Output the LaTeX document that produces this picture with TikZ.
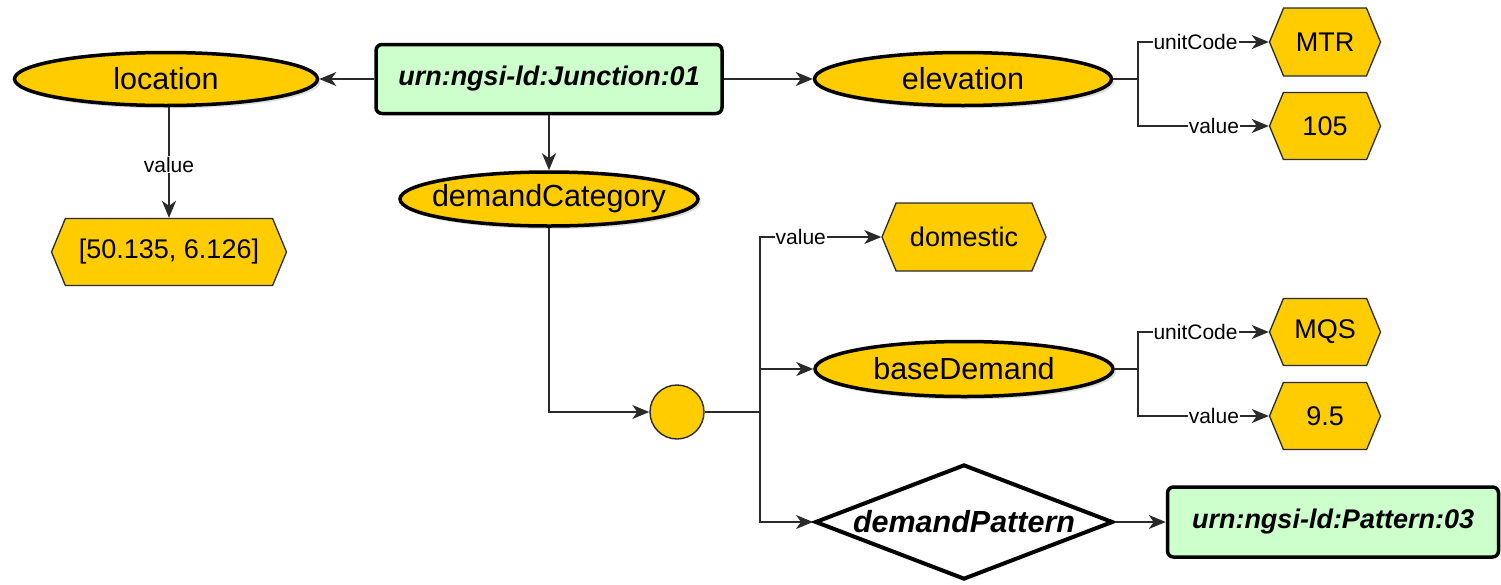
\documentclass[tikz,border=0pt]{standalone}
\usepackage{fontspec}
\setmainfont{Liberation Sans}
\usetikzlibrary{shapes.geometric,shapes.symbols,arrows.meta,shadows}
\definecolor{gold}{HTML}{FFCC00}
\definecolor{mint}{HTML}{CCFFCC}
\definecolor{ln}{HTML}{2A2A2A}
\tikzset{
  proptext/.style={font=\fontsize{30.5}{36}\selectfont, inner sep=0pt, text=black},
  prop/.style={ellipse, draw=black, line width=3.5pt, fill=gold, inner sep=0pt,
    drop shadow={opacity=0.25, shadow xshift=3pt, shadow yshift=-3pt},
    label={[proptext]center:#1}},
  entity/.style={rectangle, rounded corners=6pt, draw=black, line width=3.5pt, fill=mint, inner sep=0pt,
    font=\fontsize{27}{32}\selectfont\bfseries\itshape},
  hexn/.style={signal, signal to=west and east, signal pointer angle=135, draw=ln, line width=1.3pt,
    fill=gold, inner sep=0pt, font=\fontsize{27}{32}\selectfont},
  reltext/.style={font=\fontsize{30.5}{36}\selectfont\bfseries\itshape, inner sep=0pt},
  relnode/.style={diamond, draw=black, line width=4pt, fill=white, inner sep=0pt,
    label={[reltext]center:#1}},
  blank/.style={circle, draw=ln, line width=1.4pt, fill=gold, inner sep=0pt, minimum size=54pt},
  conn/.style={draw=ln, line width=1.6pt},
  arr/.style={conn, -{Stealth[length=17pt,width=14pt,inset=5pt]}},
  lbl/.style={fill=white, inner sep=1pt, font=\fontsize{21}{25}\selectfont},
}
\begin{document}
\begin{tikzpicture}[x=1pt,y=-1pt]
\useasboundingbox (0,0) rectangle (1501,584);
% nodes
\node[entity, minimum width=346pt, minimum height=69pt] (jn) at (549,79) {urn:ngsi-ld:Junction:01};
\node[prop=location, minimum width=303pt, minimum height=53pt] (loc) at (166,79) {};
\node[prop=elevation, minimum width=297pt, minimum height=53pt] (elev) at (963,79) {};
\node[prop=demandCategory, minimum width=298pt, minimum height=54pt] (dc) at (549,199) {};
\node[hexn, minimum width=235pt, minimum height=67pt] (lochex) at (169,252) {[50.135, 6.126]};
\node[hexn, minimum width=111pt, minimum height=68pt] (mtr) at (1325,42) {MTR};
\node[hexn, minimum width=111pt, minimum height=67pt] (v105) at (1325,126) {105};
\node[blank] (bn) at (677,412) {};
\node[hexn, minimum width=164pt, minimum height=68pt] (dom) at (964,237) {domestic};
\node[prop=baseDemand, minimum width=298pt, minimum height=55pt] (base) at (964,369) {};
\node[hexn, minimum width=111pt, minimum height=67pt] (mqs) at (1325,332) {MQS};
\node[hexn, minimum width=111pt, minimum height=67pt] (v95) at (1325,416) {9.5};
\node[relnode=demandPattern, minimum width=298pt, minimum height=115pt] (dp) at (964,522) {};
\node[entity, minimum width=331pt, minimum height=70pt] (pat) at (1333,522) {urn:ngsi-ld:Pattern:03};
% junction coordinates
\coordinate (j1) at (1138,79);
\coordinate (j2) at (1138,369);
\coordinate (j3) at (760,412);
% connectors
\draw[arr] (jn.west) -- (loc.east);
\draw[arr] (jn.east) -- (elev.west);
\draw[arr] (jn.south) -- (dc.north);
\draw[arr] (loc.south -| lochex.north) -- node[lbl, pos=0.52] {value} (lochex.north);
\draw[conn] (elev.east) -- (j1);
\draw[arr] (j1) |- node[lbl, pos=0.72] {unitCode} (mtr.west);
\draw[arr] (j1) |- node[lbl, pos=0.79] {value} (v105.west);
\draw[arr] (dc.south) |- (bn.west);
\draw[conn] (bn.east) -- (j3);
\draw[arr] (j3) |- node[lbl, pos=0.668] {value} (dom.west);
\draw[arr] (j3) |- (base.west);
\draw[arr] (j3) |- (dp.west);
\draw[conn] (base.east) -- (j2);
\draw[arr] (j2) |- node[lbl, pos=0.72] {unitCode} (mqs.west);
\draw[arr] (j2) |- node[lbl, pos=0.79] {value} (v95.west);
\draw[arr] (dp.east) -- (pat.west);
\end{tikzpicture}
\end{document}
